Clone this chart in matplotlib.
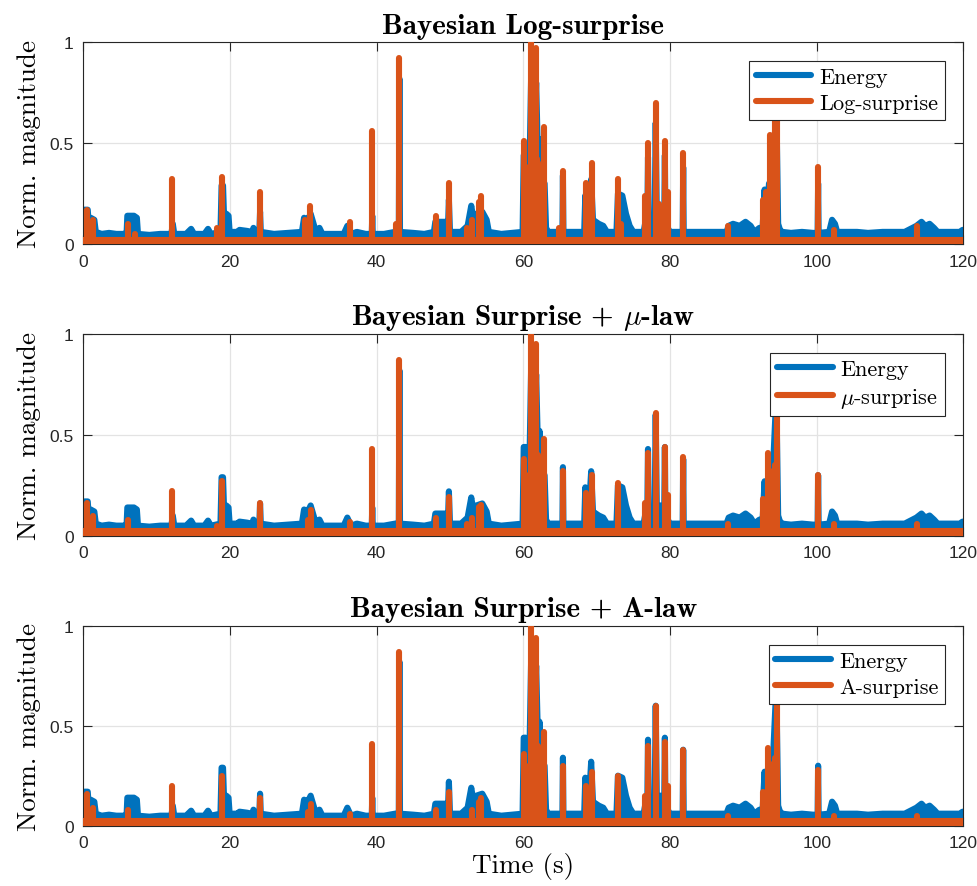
import matplotlib
matplotlib.use("Agg")
import matplotlib.pyplot as plt

plt.rcParams['mathtext.fontset'] = 'cm'

BLUE = '#0072BD'
ORANGE = '#D95319'
AXCOL = '#262626'

# short-time energy envelope (same signal in every panel)
energy_t = [0.0, 0.15, 0.6, 0.8, 1.0, 1.5, 1.7, 2.5, 3.5, 4.5, 5.5, 5.9, 6.0, 6.9, 7.3, 7.45,
            9.0, 10.5, 11.8, 12.0, 12.2, 12.4, 14.0, 14.7, 15.1, 16.5, 17.0, 17.4, 18.7, 18.85,
            19.05, 19.2, 19.5, 19.8, 19.95, 21.0, 21.3, 22.3, 23.0, 23.2, 23.5, 24.0, 24.1, 24.2,
            26.0, 28.0, 29.8, 30.1, 30.6, 31.0, 31.4, 31.7, 32.2, 32.6, 34.0, 35.5, 36.0, 36.5,
            37.3, 38.5, 39.33, 39.4, 39.47, 41.0, 42.5, 43.02, 43.1, 43.18, 45.0, 46.5, 47.8, 48.0,
            49.3, 49.7, 49.85, 50.0, 51.5, 52.4, 52.9, 53.2, 53.6, 54.4, 55.0, 55.3, 57.0, 58.5,
            59.9, 60.05, 60.3, 60.5, 60.8, 61.1, 61.4, 61.75, 62.05, 62.2, 62.4, 62.9, 63.1, 63.4,
            64.8, 65.33, 65.4, 65.47, 67.0, 68.3, 68.45, 68.6, 68.9, 69.25, 69.5, 70.3, 70.9, 71.4,
            72.7, 72.9, 73.5, 74.0, 74.5, 75.0, 76.4, 76.6, 76.9, 77.0, 77.1, 77.9, 78.05, 78.2,
            78.6, 79.22, 79.3, 79.38, 80.0, 81.73, 81.8, 81.87, 84.0, 86.0, 87.7, 88.0, 88.6, 89.5,
            90.3, 91.0, 91.5, 92.2, 92.6, 92.9, 93.1, 93.5, 94.0, 94.5, 94.75, 95.0, 95.3, 96.5,
            98.0, 99.5, 100.13, 100.2, 100.27, 101.7, 102.1, 102.5, 102.8, 104.5, 105.5, 107.0,
            109.0, 110.5, 112.0, 113.6, 114.3, 114.8, 115.4, 116.0, 116.5, 118.0, 119.5, 119.9,
            120.0]
energy_v = [0.03, 0.17, 0.17, 0.07, 0.13, 0.12, 0.06, 0.05, 0.055, 0.05, 0.05, 0.055, 0.14, 0.14, 0.13, 0.05,
            0.045, 0.05, 0.05, 0.05, 0.10, 0.05, 0.05, 0.075, 0.05, 0.05, 0.075, 0.05, 0.06, 0.29,
            0.29, 0.12, 0.15, 0.14, 0.06, 0.06, 0.07, 0.065, 0.06, 0.08, 0.05, 0.06, 0.16, 0.06,
            0.05, 0.055, 0.06, 0.13, 0.12, 0.15, 0.10, 0.06, 0.08, 0.05, 0.05, 0.05, 0.09, 0.05,
            0.06, 0.05, 0.05, 0.14, 0.05, 0.05, 0.06, 0.06, 0.82, 0.06, 0.055, 0.05, 0.06, 0.11,
            0.11, 0.06, 0.22, 0.06, 0.06, 0.09, 0.19, 0.12, 0.15, 0.16, 0.12, 0.06, 0.05, 0.055,
            0.06, 0.44, 0.44, 0.30, 0.30, 0.90, 0.40, 0.80, 0.35, 0.52, 0.30, 0.30, 0.08, 0.06,
            0.06, 0.06, 0.34, 0.06, 0.06, 0.06, 0.24, 0.10, 0.10, 0.32, 0.12, 0.10, 0.09, 0.06,
            0.06, 0.25, 0.24, 0.15, 0.09, 0.06, 0.06, 0.10, 0.10, 0.43, 0.10, 0.10, 0.60, 0.15,
            0.15, 0.15, 0.44, 0.10, 0.06, 0.06, 0.38, 0.06, 0.06, 0.06, 0.06, 0.09, 0.10, 0.09,
            0.11, 0.09, 0.06, 0.08, 0.06, 0.27, 0.10, 0.30, 0.30, 0.70, 0.10, 0.07, 0.06, 0.055,
            0.06, 0.055, 0.055, 0.30, 0.055, 0.06, 0.12, 0.10, 0.06, 0.06, 0.06, 0.055,
            0.06, 0.06, 0.06, 0.09, 0.11, 0.09, 0.10, 0.08, 0.06, 0.06, 0.06, 0.07,
            0.04]

# surprise onsets: time (s) and normalised height
log_t = [0.45, 1.3, 6.1, 7.0, 12.05, 18.2, 18.9, 24.1, 30.2, 30.9, 36.3, 39.4, 42.6, 43.1, 48.05,
         49.9, 52.3, 53.0, 53.9, 54.2, 60.1, 60.25, 60.4, 60.55, 60.7, 60.85, 61.1, 61.25, 61.4,
         61.55, 61.7, 61.85, 62.0, 62.4, 62.55, 62.8, 64.8, 65.4, 68.5, 69.3, 72.9, 73.3, 76.6,
         77.05, 78.1, 78.5, 79.3, 79.7, 81.8, 87.9, 92.7, 93.1, 93.6, 93.9, 94.3, 94.6, 100.2,
         102.3, 113.7]
log_v = [0.17, 0.12, 0.10, 0.05, 0.32, 0.08, 0.33, 0.26, 0.12, 0.19, 0.11, 0.56, 0.10, 0.92, 0.14,
         0.30, 0.08, 0.12, 0.21, 0.24, 0.51, 0.35, 0.38, 0.32, 0.30, 0.36, 1.00, 0.40, 0.50,
         0.38, 0.97, 0.42, 0.40, 0.35, 0.30, 0.58, 0.08, 0.36, 0.30, 0.40, 0.32, 0.10, 0.24,
         0.50, 0.70, 0.20, 0.51, 0.26, 0.45, 0.09, 0.22, 0.26, 0.54, 0.45, 0.62, 0.75, 0.38,
         0.07, 0.09]

mu_t = [0.45, 1.3, 6.1, 12.05, 18.2, 18.9, 24.1, 30.6, 31.0, 36.3, 39.4, 43.1, 48.05, 49.9, 52.3,
        53.0, 53.9, 54.2, 60.1, 60.25, 60.4, 60.55, 60.85, 61.1, 61.25, 61.4, 61.55, 61.7, 61.85,
        62.0, 62.4, 62.55, 62.8, 65.4, 68.5, 69.3, 72.9, 76.6, 77.05, 78.1, 79.3, 79.7, 81.8,
        87.9, 92.7, 93.4, 93.7, 94.0, 94.3, 94.6, 100.2, 102.3, 113.7]
mu_v = [0.16, 0.10, 0.08, 0.22, 0.05, 0.27, 0.16, 0.08, 0.13, 0.07, 0.43, 0.87, 0.09, 0.19, 0.06,
        0.09, 0.14, 0.15, 0.38, 0.28, 0.30, 0.26, 0.30, 1.00, 0.35, 0.45, 0.32, 0.95, 0.36,
        0.40, 0.30, 0.26, 0.48, 0.32, 0.21, 0.30, 0.26, 0.16, 0.41, 0.61, 0.44, 0.20, 0.39,
        0.06, 0.18, 0.41, 0.30, 0.32, 0.35, 0.67, 0.30, 0.06, 0.06]

a_t = [0.45, 1.3, 6.1, 12.05, 18.9, 24.1, 30.6, 31.0, 36.3, 39.4, 43.1, 48.05, 49.9, 53.0, 53.9,
       54.2, 60.1, 60.25, 60.4, 60.55, 60.85, 61.1, 61.25, 61.4, 61.55, 61.7, 61.85, 62.0, 62.4,
       62.55, 62.8, 65.4, 68.5, 69.3, 72.9, 76.6, 77.05, 78.1, 79.3, 79.7, 81.8, 87.9, 92.7,
       93.4, 93.7, 94.0, 94.3, 94.6, 100.2, 102.3, 113.7]
a_v = [0.16, 0.09, 0.08, 0.20, 0.25, 0.14, 0.07, 0.11, 0.06, 0.41, 0.87, 0.08, 0.17, 0.08, 0.12,
       0.14, 0.36, 0.27, 0.30, 0.25, 0.29, 1.00, 0.34, 0.45, 0.31, 0.94, 0.35, 0.40, 0.30,
       0.25, 0.47, 0.30, 0.20, 0.27, 0.25, 0.15, 0.40, 0.60, 0.42, 0.20, 0.38, 0.05, 0.17,
       0.39, 0.29, 0.31, 0.34, 0.66, 0.28, 0.05, 0.05]

# noise floor of the surprise signals
surprise_floor = 0.022

titles = ['Bayesian Log-surprise', r'Bayesian Surprise + $\mu$-law', 'Bayesian Surprise + A-law']
labels = ['Log-surprise', r'$\mu$-surprise', 'A-surprise']
spikes = [(log_t, log_v), (mu_t, mu_v), (a_t, a_v)]

LW = 4.4
fig = plt.figure(figsize=(9.77, 8.87), dpi=100)
boxes = [[0.0853, 0.7238, 0.9007, 0.2274],
         [0.0853, 0.3949, 0.9007, 0.2274],
         [0.0853, 0.0680, 0.9007, 0.2255]]
leg_anchor = [(0.979, 0.909), (0.979, 0.907), (0.979, 0.905)]

for i in range(3):
    ax = fig.add_axes(boxes[i])
    st, sv = spikes[i]

    ax.fill_between(energy_t, 0, energy_v, color=BLUE, lw=0, zorder=2)
    ax.plot(energy_t, energy_v, color=BLUE, lw=LW, solid_joinstyle='round',
            solid_capstyle='round', zorder=2, label='Energy')

    ax.fill_between([0, 120], 0, surprise_floor, color=ORANGE, lw=0, zorder=3)
    ax.plot([0, 120], [surprise_floor, surprise_floor], color=ORANGE, lw=LW,
            solid_capstyle='round', zorder=3, label=labels[i])
    ax.vlines(st, 0, sv, color=ORANGE, lw=LW, capstyle='round', zorder=3)

    ax.set_xlim(0, 120)
    ax.set_ylim(0, 1)
    ax.set_xticks([0, 20, 40, 60, 80, 100, 120])
    ax.set_yticks([0, 0.5, 1])
    ax.set_yticklabels(['0', '0.5', '1'])
    ax.grid(True, color='#e3e3e3', lw=0.9, zorder=0)
    ax.set_axisbelow(True)
    ax.tick_params(direction='in', length=6.5, width=0.8, top=True, right=True,
                   colors=AXCOL, labelsize=12.5, pad=7)
    for lab in ax.get_xticklabels() + ax.get_yticklabels():
        lab.set_family('Liberation Sans')
    for sp in ax.spines.values():
        sp.set_color(AXCOL)
        sp.set_linewidth(0.8)

    ax.set_title(titles[i], family=['cmb10', 'DejaVu Serif'], fontsize=21, pad=7, color='black')
    ax.set_ylabel('Norm. magnitude', family=['cmr10', 'DejaVu Serif'], fontsize=19.5, labelpad=6)

    leg = ax.legend(loc='upper right', bbox_to_anchor=leg_anchor[i], fancybox=False,
                    prop={'family': ['cmr10', 'DejaVu Serif'], 'size': 16},
                    handlelength=2.5, handletextpad=0.35, borderpad=0.3, labelspacing=0.3,
                    borderaxespad=0, framealpha=1)
    leg.get_frame().set_edgecolor(AXCOL)
    leg.get_frame().set_linewidth(0.8)
    leg.set_zorder(5)

ax.set_xlabel('Time (s)', family=['cmr10', 'DejaVu Serif'], fontsize=19.5, labelpad=1)

fig.savefig('out.png', dpi=100)
